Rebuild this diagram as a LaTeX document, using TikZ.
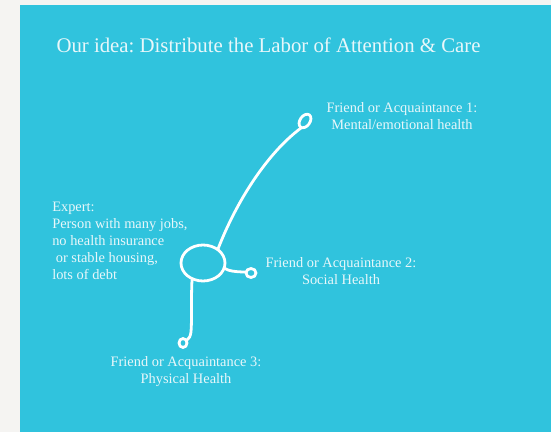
\documentclass[tikz,border=0pt]{standalone}
\usepackage{fontspec}
\setmainfont{Liberation Serif}
\definecolor{bgcyan}{HTML}{30C3DD}
\definecolor{paper}{HTML}{F5F4F2}
\definecolor{txt}{HTML}{E8F7FA}
\frenchspacing
\begin{document}
\begin{tikzpicture}[x=0.75pt,y=-0.75pt,
  lbl/.style={text=txt,font=\fontsize{10.8}{12.75}\selectfont,align=center,inner sep=0pt},
  stroke/.style={draw=white,line width=2.1pt,line cap=round,line join=round}]
\useasboundingbox (0,0) rectangle (551,432);
\fill[paper] (0,0) rectangle (551,432);
\fill[bgcyan] (20,5) rectangle (551,432);
\node[text=txt,font=\fontsize{15.6}{18}\selectfont,inner sep=0pt] (title) at (268.5,45) {Our idea: Distribute the Labor of Attention \& Care};
\node[lbl] (f1) at (402,116) {Friend or Acquaintance 1:\\Mental/emotional health};
\node[lbl] (f2) at (341,271) {Friend or Acquaintance 2:\\Social Health};
\node[lbl] (f3) at (186,372) {Friend or Acquaintance 3:\\Physical Health};
\node[lbl,align=left,anchor=north west] (ex) at (52,202) {Expert:\\Person with many jobs,\\no health insurance\\\ or stable housing,\\lots of debt};
% hub
\draw[stroke] (203,263) ellipse [x radius=22, y radius=18];
\coordinate (hubtop) at (218,249);
\coordinate (hubright) at (224,268);
\coordinate (hubbottom) at (192,280);
% friend 1 loop
\draw[stroke,rotate around={-35:(305,121)}] (305,121) ellipse [x radius=5, y radius=7.5];
\coordinate (l1) at (301,128);
\draw[stroke] (l1) .. controls (265,155) and (235,205) .. (hubtop);
% friend 2 loop
\draw[stroke] (251,273) ellipse [x radius=5, y radius=4.5];
\coordinate (l2) at (246,272);
\draw[stroke] (hubright) .. controls (228,271) and (236,272) .. (l2);
% friend 3 loop
\draw[stroke] (183,343) ellipse [x radius=4, y radius=4.5];
\coordinate (l3) at (187,340);
\draw[stroke] (hubbottom) .. controls (191,300) and (192,320) .. (191,332) .. controls (190,337) .. (l3);
\end{tikzpicture}
\end{document}
